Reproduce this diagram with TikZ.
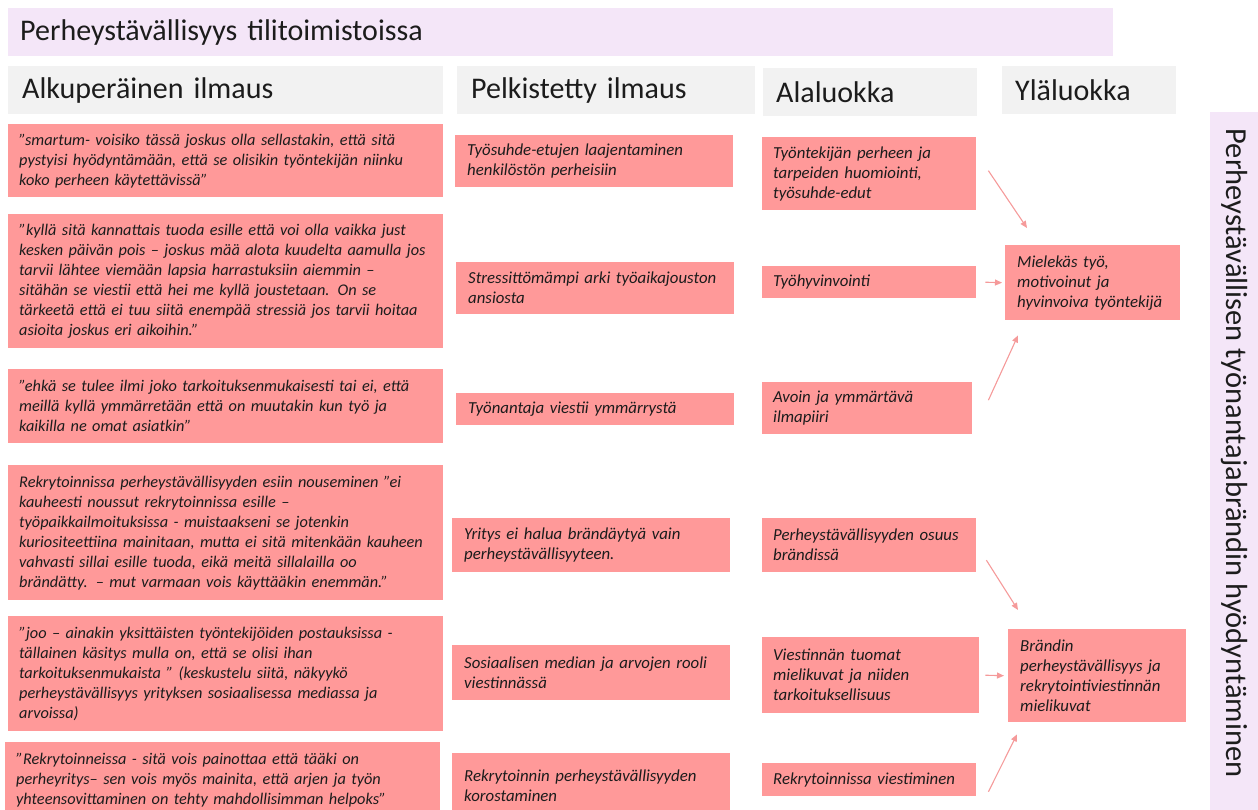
\documentclass[tikz,border=0pt]{standalone}
\usepackage{fontspec}
\setmainfont{Carlito}
\usepackage{tikz}
\usetikzlibrary{arrows.meta,calc}
\definecolor{salmon}{HTML}{FF9999}
\definecolor{salmonline}{HTML}{F59A9A}
\definecolor{lilac}{HTML}{F4E6F8}
\definecolor{headgrey}{HTML}{F2F2F2}
\definecolor{ink}{HTML}{1C1C1C}

\begin{document}
\begin{tikzpicture}[
  x=1pt,
  y=-1pt,
  titlebar/.style={
    fill=lilac,anchor=north west,inner xsep=12pt,inner ysep=0pt,
    minimum height=48pt,align=left,text=ink,
    font=\fontsize{30}{34}\selectfont
  },
  head/.style={
    fill=headgrey,anchor=north west,inner xsep=14pt,inner ysep=0pt,
    minimum height=48pt,align=left,text=ink,
    font=\fontsize{30}{34}\selectfont
  },
  card/.style={
    fill=salmon,anchor=north west,inner xsep=12pt,inner ysep=0pt,
    align=left,text=ink,font=\fontsize{16.8}{20}\selectfont\itshape
  },
  quote/.style={card,inner xsep=11pt,text width=413pt,font=\fontsize{16.3}{20}\selectfont\itshape},
  reduced/.style={card,text width=254pt},
  sub/.style={card,inner xsep=11pt,text width=192pt},
  sidebar/.style={fill=lilac,anchor=north west,minimum width=48pt,inner sep=0pt},
  sidelabel/.style={rotate=-90,text=ink,font=\fontsize{30.5}{34}\selectfont},
  link/.style={
    -{Triangle[length=7pt,width=6pt]},line width=1.1pt,draw=salmonline
  }
]
  \clip (0,0) rectangle (1258,809);
  \useasboundingbox (0,0) rectangle (1258,809);

  % Title and column heads
  \node[titlebar,text width=1081pt] (title) at (8,8) {Perheystävällisyys tilitoimistoissa};
  \node[head,text width=407pt] (h-orig) at (8,66) {Alkuperäinen ilmaus};
  \node[head,text width=270pt] (h-red) at (457,66) {Pelkistetty ilmaus};
  \node[head,inner xsep=13pt,text width=188pt] (h-sub) at (763,68) {Alaluokka};
  \node[head,inner xsep=13pt,text width=148pt] (h-main) at (1002,66) {Yläluokka};

  % Side bar
  \node[sidebar,minimum height=700pt] (side) at (1210,112) {};
  \node[sidelabel] (side-lbl) at (1234,453) {Perheystävällisen työnantajabrändin hyödyntäminen};

  % Alkuperäinen ilmaus
  \node[quote,minimum height=73pt] (q1) at (8,124)
    {”smartum- voisiko tässä joskus olla sellastakin, että sitä\\
     pystyisi hyödyntämään, että se olisikin työntekijän niinku\\
     koko perheen käytettävissä”};
  \node[quote,minimum height=134pt] (q2) at (8,214)
    {”kyllä sitä kannattais tuoda esille että voi olla vaikka just\\
     kesken päivän pois – joskus mää alota kuudelta aamulla jos\\
     tarvii lähtee viemään lapsia harrastuksiin aiemmin –\\
     sitähän se viestii että hei me kyllä joustetaan. On se\\
     tärkeetä että ei tuu siitä enempää stressiä jos tarvii hoitaa\\
     asioita joskus eri aikoihin.”};
  \node[quote,minimum height=74pt] (q3) at (8,369)
    {”ehkä se tulee ilmi joko tarkoituksenmukaisesti tai ei, että\\
     meillä kyllä ymmärretään että on muutakin kun työ ja\\
     kaikilla ne omat asiatkin”};
  \node[quote,minimum height=135pt] (q4) at (8,465)
    {Rekrytoinnissa perheystävällisyyden esiin nouseminen ”ei\\
     kauheesti noussut rekrytoinnissa esille –\\
     työpaikkailmoituksissa - muistaakseni se jotenkin\\
     kuriositeettiina mainitaan, mutta ei sitä mitenkään kauheen\\
     vahvasti sillai esille tuoda, eikä meitä sillalailla oo\\
     brändätty. – mut varmaan vois käyttääkin enemmän.”};
  \node[quote,minimum height=115pt] (q5) at (8,616)
    {”joo – ainakin yksittäisten työntekijöiden postauksissa -\\
     tällainen käsitys mulla on, että se olisi ihan\\
     tarkoituksenmukaista ” (keskustelu siitä, näkyykö\\
     perheystävällisyys yrityksen sosiaalisessa mediassa ja\\
     arvoissa)};
  \node[quote,minimum height=76pt] (q6) at (5,742)
    {”Rekrytoinneissa - sitä vois painottaa että tääki on\\
     perheyritys– sen vois myös mainita, että arjen ja työn\\
     yhteensovittaminen on tehty mahdollisimman helpoks”};

  % Pelkistetty ilmaus
  \node[reduced,minimum height=52pt] (m1) at (455,135)
    {Työsuhde-etujen laajentaminen\\henkilöstön perheisiin};
  \node[reduced,minimum height=52pt] (m2) at (456,262)
    {Stressittömämpi arki työaikajouston\\ansiosta};
  \node[reduced,minimum height=32pt] (m3) at (456,393)
    {Työnantaja viestii ymmärrystä};
  \node[reduced,minimum height=54pt] (m4) at (452,518)
    {Yritys ei halua brändäytyä vain\\perheystävällisyyteen.};
  \node[reduced,minimum height=55pt] (m5) at (452,645)
    {Sosiaalisen median ja arvojen rooli\\viestinnässä};
  \node[reduced,minimum height=66pt] (m6) at (452,753)
    {Rekrytoinnin perheystävällisyyden\\korostaminen};

  % Alaluokka
  \node[sub,minimum height=73pt] (a1) at (762,137)
    {Työntekijän perheen ja\\tarpeiden huomiointi,\\työsuhde-edut};
  \node[sub,minimum height=32pt] (a2) at (762,266)
    {Työhyvinvointi};
  \node[sub,text width=188pt,minimum height=52pt] (a3) at (762,382)
    {Avoin ja ymmärtävä\\ilmapiiri};
  \node[sub,minimum height=54pt] (a4) at (762,518)
    {Perheystävällisyyden osuus\\brändissä};
  \node[sub,text width=195pt,minimum height=76pt] (a5) at (762,637)
    {Viestinnän tuomat\\mielikuvat ja niiden\\tarkoituksellisuus};
  \node[sub,minimum height=33pt] (a6) at (762,763)
    {Rekrytoinnissa viestiminen};

  % Yläluokka
  \node[card,text width=151pt,minimum height=75pt] (y1) at (1005,245)
    {Mielekäs työ,\\motivoinut ja\\hyvinvoiva työntekijä};
  \node[card,text width=154pt,minimum height=93pt] (y2) at (1008,629)
    {Brändin\\perheystävällisyys ja\\rekrytointiviestinnän\\mielikuvat};

  \draw[link] ($(a1.east)+(12,-3)$) -- ($(y1.north west)+(22,-17)$);
  \draw[link] ($(a2.east)+(9,0)$) -- ($(y1.west)+(-3,0)$);
  \draw[link] ($(a3.east)+(16,-8)$) -- ($(y1.south west)+(13,15)$);
  \draw[link] ($(a4.east)+(10,15)$) -- ($(y2.north west)+(10,-19)$);
  \draw[link] ($(a5.east)+(6,0)$) -- ($(y2.west)+(-4,0)$);
  \draw[link] ($(a6.east)+(12,12)$) -- ($(y2.south west)+(9,12)$);
\end{tikzpicture}
\end{document}
